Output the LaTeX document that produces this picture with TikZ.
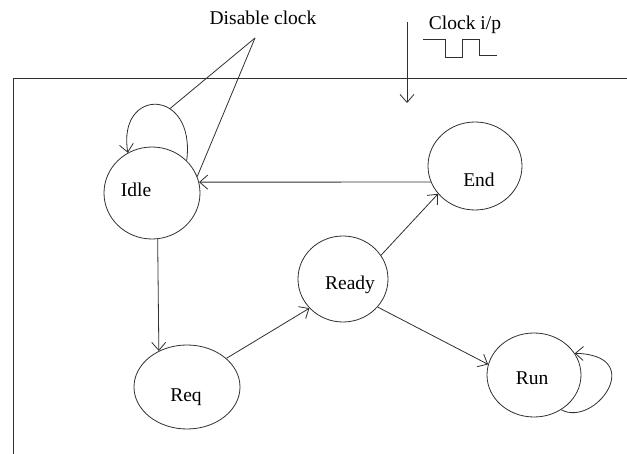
\documentclass[tikz,border=0pt]{standalone}
\usepackage{fontspec}
\setmainfont{Liberation Serif}
\usetikzlibrary{arrows.meta,shapes.geometric}
\definecolor{ln}{HTML}{303030}
\tikzset{
  state/.style={draw=ln,line width=0.8pt,ellipse,inner sep=0pt,minimum width=#1},
  lbl/.style={anchor=base,inner sep=0pt,font=\fontsize{19.5}{22}\selectfont},
  arr/.style={draw=ln,line width=0.8pt,-{Straight Barb[length=8pt,width=14pt,line width=0.8pt]}},
  plain/.style={draw=ln,line width=0.8pt}
}
\begin{document}
\begin{tikzpicture}[x=1pt,y=-1pt]
\useasboundingbox (0,0) rectangle (627,454);
% frame
\draw[plain] (627,78) -- (13,78) -- (13,454);
% states
\node[state=96pt,minimum height=92pt] (idle) at (152,193) {};
\node[state=94pt,minimum height=88pt] (end) at (475,166) {};
\node[state=90pt,minimum height=86pt] (ready) at (343,279) {};
\node[state=106pt,minimum height=84pt] (req) at (187,387) {};
\node[state=94pt,minimum height=84pt] (run) at (534,375) {};
% labels
\node[lbl] (tidle) at (136,197) {Idle};
\node[lbl] (tend) at (479,187) {End};
\node[lbl] (tready) at (350,290) {Ready};
\node[lbl] (treq) at (186,402) {Req};
\node[lbl] (trun) at (532,385) {Run};
\node[lbl] (tdis) at (263,25) {Disable clock};
\node[lbl] (tclk) at (465,30) {Clock i/p};
% transitions
\draw[arr] (idle.-83) -- (req.128);
\draw[arr] (req.36) -- (ready.221);
\draw[arr] (ready.32) -- (end.217);
\draw[arr] (ready.-39) -- (run.167);
\draw[arr] (end.200) -- (idle.13);
% self loops
\draw[arr] (idle.43) .. controls (196,87) and (117,87) .. coordinate[pos=0.37] (lp) (idle.121);
\draw[arr] (run.-52) .. controls (595,428) and (648,355) .. (run.28);
% disable clock pointers
\coordinate (dc) at (255,38);
\draw[plain] (dc) -- (lp);
\draw[plain] (dc) -- (idle.20);
% clock input
\coordinate (ca) at (407,22);
\coordinate (cb) at (407,103);
\draw[arr] (ca) -- (cb);
\draw[plain] (423,39) -- (445,39) -- (445,57) -- (462,57) -- (462,39) -- (479,39) -- (479,55) -- (497,55);
\end{tikzpicture}
\end{document}
